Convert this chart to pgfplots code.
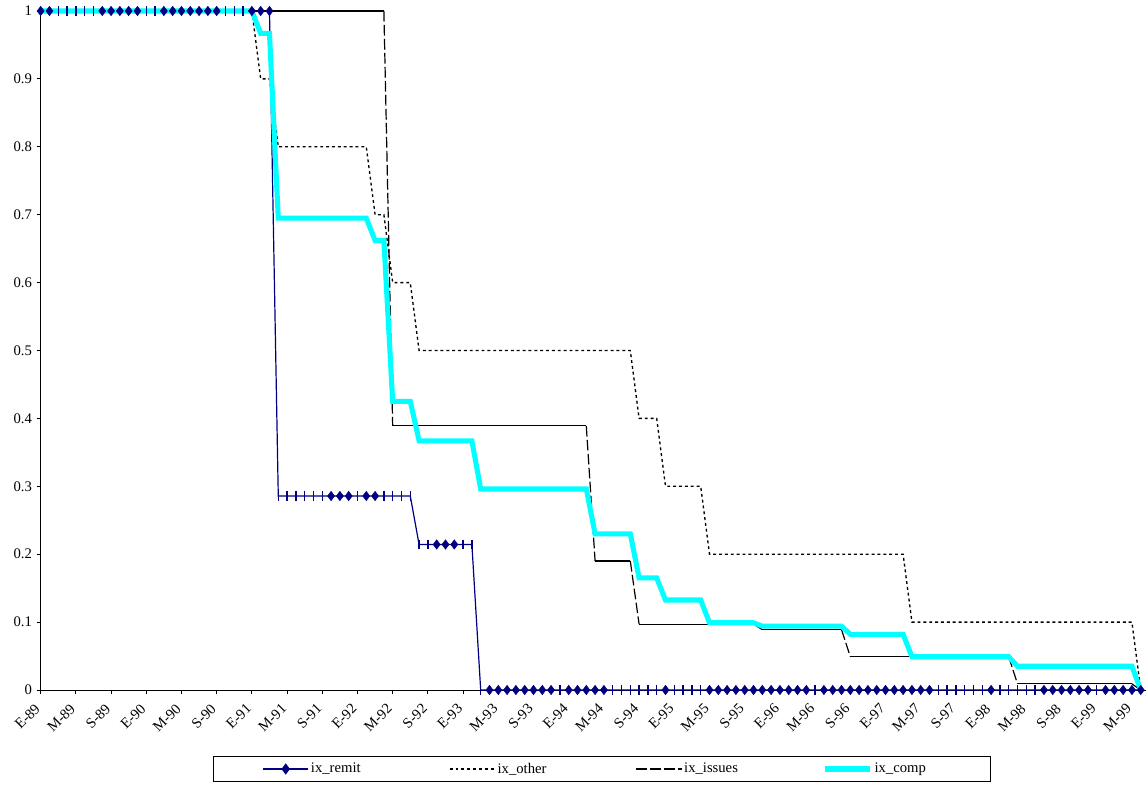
\documentclass[border=0pt]{standalone}
\usepackage{fontspec}
\setmainfont{Liberation Serif}
\usepackage{pgfplots}
\usepackage{pgfplotstable}
\pgfplotsset{compat=1.18}
\usetikzlibrary{decorations.pathreplacing}
\definecolor{navy}{RGB}{0,0,128}
\definecolor{aqua}{RGB}{0,255,255}

% month (0 = Jan 89), ix_remit, marker class, ix_other, ix_issues, ix_comp
\pgfplotstableread{
m remit cls other issues comp
0 1 d 1 1 1
1 1 d 1 1 1
2 1 v 1 1 1
3 1 v 1 1 1
4 1 v 1 1 1
5 1 v 1 1 1
6 1 v 1 1 1
7 1 d 1 1 1
8 1 d 1 1 1
9 1 d 1 1 1
10 1 d 1 1 1
11 1 d 1 1 1
12 1 v 1 1 1
13 1 v 1 1 1
14 1 d 1 1 1
15 1 d 1 1 1
16 1 d 1 1 1
17 1 d 1 1 1
18 1 d 1 1 1
19 1 d 1 1 1
20 1 d 1 1 1
21 1 v 1 1 1
22 1 v 1 1 1
23 1 v 1 1 1
24 1 d 1 1 1
25 1 d 0.9 1 0.967
26 1 d 0.9 1 0.967
27 0.2857 v 0.8 1 0.695
28 0.2857 v 0.8 1 0.695
29 0.2857 v 0.8 1 0.695
30 0.2857 v 0.8 1 0.695
31 0.2857 v 0.8 1 0.695
32 0.2857 v 0.8 1 0.695
33 0.2857 d 0.8 1 0.695
34 0.2857 d 0.8 1 0.695
35 0.2857 d 0.8 1 0.695
36 0.2857 v 0.8 1 0.695
37 0.2857 d 0.8 1 0.695
38 0.2857 d 0.7 1 0.662
39 0.2857 v 0.7 1 0.662
40 0.2857 v 0.6 0.389 0.425
41 0.2857 v 0.6 0.389 0.425
42 0.2857 v 0.6 0.389 0.425
43 0.2143 v 0.5 0.389 0.367
44 0.2143 v 0.5 0.389 0.367
45 0.2143 d 0.5 0.389 0.367
46 0.2143 d 0.5 0.389 0.367
47 0.2143 d 0.5 0.389 0.367
48 0.2143 v 0.5 0.389 0.367
49 0.2143 v 0.5 0.389 0.367
50 0 v 0.5 0.389 0.296
51 0 d 0.5 0.389 0.296
52 0 d 0.5 0.389 0.296
53 0 d 0.5 0.389 0.296
54 0 d 0.5 0.389 0.296
55 0 d 0.5 0.389 0.296
56 0 d 0.5 0.389 0.296
57 0 d 0.5 0.389 0.296
58 0 d 0.5 0.389 0.296
59 0 v 0.5 0.389 0.296
60 0 d 0.5 0.389 0.296
61 0 d 0.5 0.389 0.296
62 0 d 0.5 0.389 0.296
63 0 d 0.5 0.19 0.23
64 0 d 0.5 0.19 0.23
65 0 v 0.5 0.19 0.23
66 0 v 0.5 0.19 0.23
67 0 v 0.5 0.19 0.23
68 0 v 0.4 0.097 0.165
69 0 v 0.4 0.097 0.165
70 0 v 0.4 0.097 0.165
71 0 d 0.3 0.097 0.1325
72 0 v 0.3 0.097 0.1325
73 0 v 0.3 0.097 0.1325
74 0 v 0.3 0.097 0.1325
75 0 v 0.3 0.097 0.1325
76 0 d 0.2 0.097 0.099
77 0 d 0.2 0.097 0.099
78 0 d 0.2 0.097 0.099
79 0 d 0.2 0.097 0.099
80 0 d 0.2 0.097 0.099
81 0 d 0.2 0.097 0.099
82 0 d 0.2 0.089 0.094
83 0 d 0.2 0.089 0.094
84 0 d 0.2 0.089 0.094
85 0 d 0.2 0.089 0.094
86 0 d 0.2 0.089 0.094
87 0 d 0.2 0.089 0.094
88 0 v 0.2 0.089 0.094
89 0 d 0.2 0.089 0.094
90 0 d 0.2 0.089 0.094
91 0 d 0.2 0.089 0.094
92 0 d 0.2 0.049 0.082
93 0 d 0.2 0.049 0.082
94 0 d 0.2 0.049 0.082
95 0 d 0.2 0.049 0.082
96 0 d 0.2 0.049 0.082
97 0 d 0.2 0.049 0.082
98 0 d 0.2 0.049 0.082
99 0 d 0.1 0.049 0.049
100 0 d 0.1 0.049 0.049
101 0 d 0.1 0.049 0.049
102 0 v 0.1 0.049 0.049
103 0 v 0.1 0.049 0.049
104 0 v 0.1 0.049 0.049
105 0 v 0.1 0.049 0.049
106 0 v 0.1 0.049 0.049
107 0 v 0.1 0.049 0.049
108 0 d 0.1 0.049 0.049
109 0 v 0.1 0.049 0.049
110 0 v 0.1 0.049 0.049
111 0 v 0.1 0.009 0.035
112 0 v 0.1 0.009 0.035
113 0 v 0.1 0.009 0.035
114 0 d 0.1 0.009 0.035
115 0 d 0.1 0.009 0.035
116 0 d 0.1 0.009 0.035
117 0 d 0.1 0.009 0.035
118 0 d 0.1 0.009 0.035
119 0 d 0.1 0.009 0.035
120 0 v 0.1 0.009 0.035
121 0 d 0.1 0.009 0.035
122 0 d 0.1 0.009 0.035
123 0 d 0.1 0.009 0.035
124 0 d 0.1 0.009 0.035
125 0 d 0 0 0
}\data

\begin{document}
\begin{tikzpicture}
\begin{axis}[
  name=ax,
  scale only axis,
  width=829pt, height=509.25pt,
  xmin=0, xmax=125.6, ymin=0, ymax=1,
  clip=false,
  axis lines=left,
  axis line style={-, black, line width=0.6pt},
  tick align=outside,
  major tick length=3pt,
  tick style={black, line width=0.6pt},
  xtick={0,4,...,124},
  xticklabels={E-89,M-89,S-89,E-90,M-90,S-90,E-91,M-91,S-91,E-92,M-92,S-92,E-93,M-93,S-93,E-94,M-94,S-94,E-95,M-95,S-95,E-96,M-96,S-96,E-97,M-97,S-97,E-98,M-98,S-98,E-99,M-99},
  ytick={0,0.1,...,1},
  /pgf/number format/assume math mode=true,
  ticklabel style={font=\fontsize{11}{13}\selectfont},
  xticklabel style={xshift=-5pt, yshift=-5pt, rotate=45, anchor=north east, inner sep=1pt},
  legend columns=4,
  legend style={at={(0.5074,-0.1163)}, anchor=center, draw=black, line width=0.6pt,
    inner xsep=37pt, inner ysep=3.5pt, font=\fontsize{11}{13}\selectfont,
    column sep=0pt, nodes={inner sep=1.5pt}},
  legend cell align=left,
  legend image code/.code={\draw[mark repeat=2,mark phase=2,#1] plot coordinates {(0pt,0pt) (17pt,0pt) (34pt,0pt)};},
  % dashes restart on every segment, as in the original
  segdash/.style={draw=none, decorate, decoration={show path construction,
    lineto code={\draw[black, line width=0.9pt, dash pattern=on 8pt off 2.5pt]
      (\tikzinputsegmentfirst) -- (\tikzinputsegmentlast);}}},
]
\addlegendimage{navy, line width=0.9pt, mark=diamond*, mark options={solid, fill=navy}, mark size=3.5pt}
\addlegendentry{\makebox[102pt][l]{ix\_remit}}
\addplot[navy, line width=0.9pt, forget plot] table[x=m, y=remit] {\data};
\addplot[black, line width=1pt, dash pattern=on 2.2pt off 2.2pt] table[x=m, y=other] {\data};
\addlegendentry{\makebox[102pt][l]{ix\_other}}
\addplot[segdash, legend image code/.code={\draw[black, line width=0.9pt, dash pattern=on 8pt off 3pt] (0pt,0pt) -- (34pt,0pt);}] table[x=m, y=issues] {\data};
\addlegendentry{\makebox[102pt][l]{ix\_issues}}
\addplot[aqua, line width=3.8pt] table[x=m, y=comp] {\data};
\addlegendentry{\makebox[48pt][l]{ix\_comp}}
\addplot[scatter, only marks, forget plot, scatter src=explicit symbolic,
  scatter/classes={
    d={mark=diamond*, draw=navy, fill=navy, mark size=3.5pt},
    v={mark=|, draw=navy, mark size=3.4pt, line width=1pt}}]
  table[x=m, y=remit, meta=cls] {\data};
\end{axis}
\pgfresetboundingbox
\path ([shift={(-30.5pt,-74.25pt)}]ax.south west) rectangle ([shift={(0pt,8.25pt)}]ax.north east);
\end{tikzpicture}
\end{document}
